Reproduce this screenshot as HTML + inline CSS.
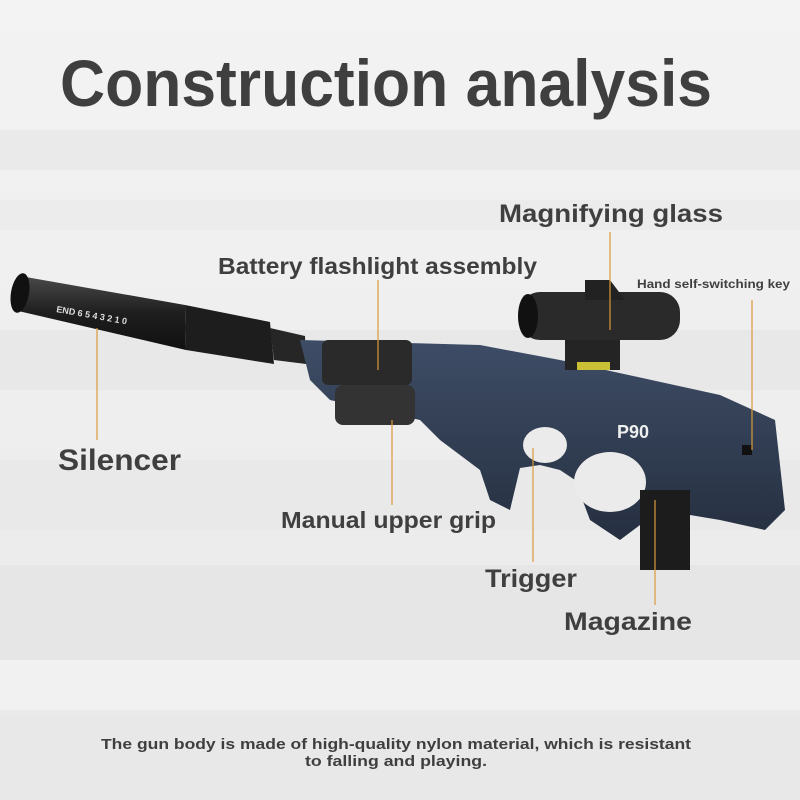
<!DOCTYPE html>
<html><head><meta charset="utf-8"><style>
html,body{margin:0;padding:0;width:800px;height:800px;overflow:hidden;background:#ececec}
svg{display:block}
text{font-family:"Liberation Sans Narrow","Liberation Sans",sans-serif;font-weight:bold;fill:#3f3f3f}
</style></head><body>
<svg width="800" height="800" viewBox="0 0 800 800">
<defs>
<linearGradient id="bg" x1="0" y1="0" x2="0" y2="1">
<stop offset="0" stop-color="#f3f3f3"/><stop offset="1" stop-color="#e9e9e9"/>
</linearGradient>
<linearGradient id="sil" x1="0" y1="0" x2="0" y2="1">
<stop offset="0" stop-color="#4a4a4a"/><stop offset="0.5" stop-color="#1e1e1e"/><stop offset="1" stop-color="#111"/>
</linearGradient>
<linearGradient id="body" x1="0" y1="0" x2="0" y2="1">
<stop offset="0" stop-color="#3e4d66"/><stop offset="1" stop-color="#252f40"/>
</linearGradient>
</defs>
<rect width="800" height="800" fill="url(#bg)"/>
<rect x="0" y="130" width="800" height="40" fill="#eaeaea"/>
<rect x="0" y="200" width="800" height="30" fill="#ececec"/>
<rect x="0" y="330" width="800" height="60" fill="#e8e8e8"/>
<rect x="0" y="460" width="800" height="70" fill="#e9e9e9"/>
<rect x="0" y="565" width="800" height="95" fill="#e6e6e6"/>
<rect x="0" y="660" width="800" height="50" fill="#f1f1f1"/>
<rect x="0" y="715" width="800" height="85" fill="#e8e8e8"/>

<!-- silencer -->
<polygon points="20,276 185,305 186,350 14,310" fill="url(#sil)"/>
<ellipse cx="20" cy="293" rx="9" ry="20" fill="#111" transform="rotate(10 20 293)"/>
<polygon points="185,305 270,322 274,364 186,350" fill="#1d1d1d"/>
<polygon points="270,328 305,336 306,364 274,360" fill="#262626"/>
<text x="56" y="312" font-size="9" style="fill:#ddd" transform="rotate(10 56 312)">END 6 5 4 3 2 1 0</text>
<!-- body -->
<polygon points="300,340 480,345 560,360 720,395 775,420 785,510 765,530 720,520 660,510 620,540 590,520 575,480 560,470 540,465 520,468 510,510 490,500 480,470 440,440 420,420 330,400 310,380" fill="url(#body)"/>
<ellipse cx="610" cy="482" rx="36" ry="30" fill="#ebebeb"/>
<ellipse cx="545" cy="445" rx="22" ry="18" fill="#ebebeb"/>
<!-- flashlight -->
<rect x="322" y="340" width="90" height="45" rx="6" fill="#2a2a2a"/>
<rect x="335" y="385" width="80" height="40" rx="8" fill="#333"/>
<!-- scope -->
<rect x="520" y="292" width="160" height="48" rx="20" fill="#2a2a2a"/>
<ellipse cx="528" cy="316" rx="10" ry="22" fill="#111"/>
<polygon points="585,280 610,280 625,300 585,300" fill="#222"/>
<rect x="565" y="340" width="55" height="30" fill="#242424"/>
<rect x="577" y="362" width="33" height="8" fill="#c9c035"/>
<!-- magazine -->
<rect x="640" y="490" width="50" height="80" fill="#1c1c1c"/>
<text x="617" y="438" font-size="18" style="fill:#eee">P90</text>
<rect x="742" y="445" width="10" height="10" fill="#111"/>

<!-- callout lines -->
<g stroke="#d99a3a" stroke-width="1.2">
<line x1="97" y1="328" x2="97" y2="440"/>
<line x1="378" y1="280" x2="378" y2="370"/>
<line x1="392" y1="420" x2="392" y2="505"/>
<line x1="533" y1="448" x2="533" y2="562"/>
<line x1="655" y1="500" x2="655" y2="605"/>
<line x1="610" y1="232" x2="610" y2="330"/>
<line x1="752" y1="300" x2="752" y2="450"/>
</g>

<text x="60" y="106" font-size="66" textLength="652" lengthAdjust="spacingAndGlyphs">Construction analysis</text>
<text x="499" y="222" font-size="25" textLength="224" lengthAdjust="spacingAndGlyphs">Magnifying glass</text>
<text x="218" y="274" font-size="23" textLength="319" lengthAdjust="spacingAndGlyphs">Battery flashlight assembly</text>
<text x="637" y="288" font-size="12" textLength="153" lengthAdjust="spacingAndGlyphs">Hand self-switching key</text>
<text x="58" y="470" font-size="30" textLength="123" lengthAdjust="spacingAndGlyphs">Silencer</text>
<text x="281" y="528" font-size="23" textLength="215" lengthAdjust="spacingAndGlyphs">Manual upper grip</text>
<text x="485" y="587" font-size="25" textLength="92" lengthAdjust="spacingAndGlyphs">Trigger</text>
<text x="564" y="630" font-size="25" textLength="128" lengthAdjust="spacingAndGlyphs">Magazine</text>
<text x="101" y="749" font-size="15" textLength="590" lengthAdjust="spacingAndGlyphs">The gun body is made of high-quality nylon material, which is resistant</text>
<text x="305" y="766" font-size="15" textLength="182" lengthAdjust="spacingAndGlyphs">to falling and playing.</text>
</svg>
</body></html>
